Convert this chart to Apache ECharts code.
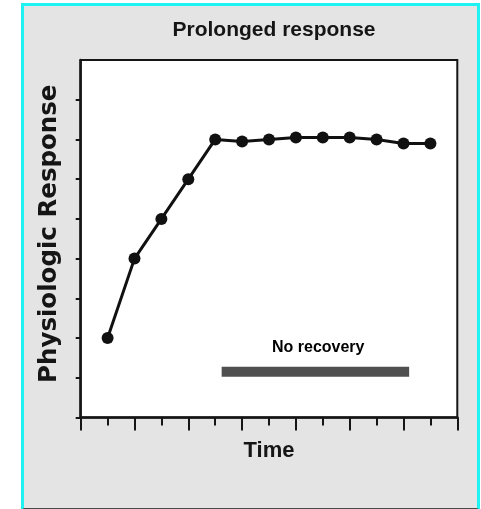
<!DOCTYPE html>
<html>
<head>
<meta charset="utf-8">
<script src="https://cdn.jsdelivr.net/npm/echarts@6/dist/echarts.min.js"></script>
<style>
html,body{margin:0;padding:0;background:#fff;width:481px;height:509px;overflow:hidden;}
#frame{position:absolute;left:21px;top:3px;width:453px;height:502px;background:#e4e4e4;border-left:3px solid #1ff2f2;border-top:3px solid #1ff2f2;border-right:3px solid #1ff2f2;border-bottom:2px solid #4a4a4a;}
#chart{position:absolute;left:0;top:0;width:481px;height:509px;}
</style>
</head>
<body>
<div id="frame"></div>
<div id="chart"></div>
<script>
// Data
const timePoints = [1, 2, 3, 4, 5, 6, 7, 8, 9, 10, 11, 12, 13];
const responseValues = [2, 4, 5, 6, 7, 6.95, 7, 7.05, 7.05, 7.05, 7, 6.9, 6.9];
const recoveryX = [5.24, 12.21];
const recoveryY = 1.15;
const recoveryLabel = 'No recovery';
const recoveryLabelPos = [8.83, 1.76];
const yTickValues = [0, 1, 2, 3, 4, 5, 6, 7, 8];
const titleText = 'Prolonged response';
const xName = 'Time';
const yName = 'Physiologic Response';

const chart = echarts.init(document.getElementById('chart'), null, {renderer: 'canvas'});
chart.setOption({
  backgroundColor: 'transparent',
  animation: false,
  title: {
    text: titleText,
    left: 269,
    top: 15,
    textAlign: 'center',
    textStyle: {fontFamily: 'Liberation Sans', fontWeight: 'bold', fontSize: 21, color: '#151515'}
  },
  grid: {
    left: 80.7, right: 23.7, top: 60, bottom: 91.5,
    show: true, backgroundColor: '#ffffff', borderColor: '#151515', borderWidth: 2
  },
  xAxis: {
    type: 'value', min: 0, max: 14, interval: 2,
    name: xName, nameLocation: 'middle', nameGap: 22,
    nameTextStyle: {fontFamily: 'Liberation Sans', fontWeight: 'bold', fontSize: 22, color: '#151515'},
    axisLine: {show: true, onZero: false, lineStyle: {color: '#151515', width: 2.5}},
    axisTick: {show: true, length: 13, lineStyle: {color: '#151515', width: 2}},
    minorTick: {show: true, splitNumber: 2, length: 8, lineStyle: {color: '#151515', width: 2}},
    axisLabel: {show: false},
    splitLine: {show: false}
  },
  yAxis: {
    type: 'value', min: 0, max: 9, interval: 1,
    name: yName, nameLocation: 'middle', nameGap: 19, nameRotate: 90,
    nameTextStyle: {fontFamily: 'DejaVu Sans', fontWeight: 'bold', fontSize: 24.5, color: '#151515', padding: [0, 0, 0, 10]},
    axisLine: {show: true, onZero: false, lineStyle: {color: '#151515', width: 2.5}},
    axisTick: {show: true, length: 5, customValues: yTickValues, lineStyle: {color: '#151515', width: 2}},
    axisLabel: {show: false},
    splitLine: {show: false}
  },
  series: [
    {
      type: 'line',
      data: timePoints.map((t, i) => [t, responseValues[i]]),
      symbol: 'circle', symbolSize: 12,
      lineStyle: {color: '#111', width: 3},
      itemStyle: {color: '#111'},
      z: 5
    },
    {
      type: 'line',
      data: recoveryX.map(x => [x, recoveryY]),
      symbol: 'none',
      lineStyle: {color: '#505050', width: 10, cap: 'butt'},
      z: 4
    },
    {
      type: 'scatter',
      data: [recoveryLabelPos],
      symbolSize: 0,
      itemStyle: {color: '#000', opacity: 1},
      label: {
        show: true, position: 'inside', formatter: recoveryLabel,
        fontFamily: 'Liberation Sans', fontWeight: 'bold', fontSize: 16, color: '#000', opacity: 1
      },
      z: 4
    }
  ]
});
</script>
</body>
</html>
